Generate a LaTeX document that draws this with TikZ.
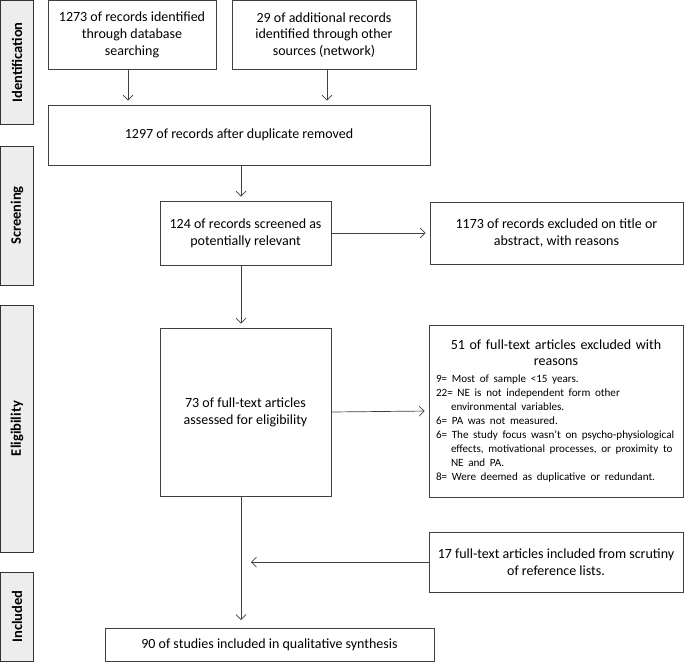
\documentclass[tikz,border=0pt]{standalone}
\usepackage{fontspec}
\setmainfont{Carlito}
\usetikzlibrary{arrows.meta}
\tikzstyle{box}=[draw=black!75,line width=0.8pt,align=center,inner sep=2pt,font=\fontsize{14}{16.8}\selectfont]
\tikzstyle{phase}=[draw=black!80,line width=0.8pt,fill=black!7,rotate=90,inner sep=0pt,font=\fontsize{14.5}{17}\selectfont\bfseries]
\tikzstyle{flow}=[->,>={Straight Barb[length=5pt,width=10pt]},line width=0.7pt,draw=black!75,shorten >=4pt]
\newcommand{\reason}[2]{\par\hangindent=15pt\hangafter=1 #1= #2}

\begin{document}
\begin{tikzpicture}[x=1pt,y=-1pt]
\useasboundingbox (0,0) rectangle (685,662);
% phases
\node[phase,minimum width=124pt,minimum height=33pt] (ident) at (17,62.5) {Identification};
\node[phase,minimum width=139pt,minimum height=33pt] (screen) at (17,215.5) {Screening};
\node[phase,minimum width=247pt,minimum height=33pt] (elig) at (17,428.5) {Eligibility};
\node[phase,minimum width=89pt,minimum height=33pt] (incl) at (17,616.5) {Included};

% boxes
\node[box,minimum width=168pt,minimum height=69pt] (db) at (132,35) {1273 of records identified\\ through database\\ searching};
\node[box,minimum width=184pt,minimum height=69pt] (other) at (324,35) {29 of additional records\\ identified through other\\ sources (network)};
\node[box,minimum width=382pt,minimum height=60pt] (dup) at (239,135) {1297 of records after duplicate removed};
\node[box,minimum width=171pt,minimum height=64pt] (screened) at (245.5,233) {124 of records screened as\\ potentially relevant};
\node[box,minimum width=253pt,minimum height=62pt] (excl) at (556.5,233) {1173 of records excluded on title or\\ abstract, with reasons};
\node[box,minimum width=171pt,minimum height=168pt] (full) at (245.5,412) {73 of full-text articles\\ assessed for eligibility};
\node[box,text width=240pt,minimum width=254pt,align=left,minimum height=172pt] (fullexcl) at (556,411) {{\centering 51 of full-text articles excluded with\\ reasons\par}\vspace{3pt}{\fontsize{11.1}{14}\selectfont\raggedright\hyphenpenalty=10000
\reason{9}{Most of sample <15 years.}
\reason{22}{NE is not independent form other environmental variables.}
\reason{6}{PA was not measured.}
\reason{6}{The study focus wasn’t on psycho-physiological effects, motivational processes, or proximity to NE and PA.}
\reason{8}{Were deemed as duplicative or redundant.}\par}};
\node[box,minimum width=254pt,minimum height=60pt] (refs) at (556,562) {17 full-text articles included from scrutiny\\ of reference lists.};
\node[box,minimum width=329pt,minimum height=33pt] (final) at (269.5,645) {90 of studies included in qualitative synthesis};
\coordinate (spine) at (241,0);

% arrows
\draw[flow] (db.south -| 128,0) -- (dup.north -| 128,0);
\draw[flow] (other.south -| 327,0) -- (dup.north -| 327,0);
\draw[flow] (dup.south -| spine) -- (screened.north -| spine);
\draw[flow] (screened.east) -- (excl.west);
\draw[flow] (screened.south -| spine) -- (full.north -| spine);
\draw[flow] (full.east) -- (fullexcl.west);
\draw[flow,shorten >=10pt] (refs.west) -- (spine |- refs.west);
\draw[flow,shorten >=8pt] (full.south -| spine) -- (final.north -| spine);
\end{tikzpicture}
\end{document}
